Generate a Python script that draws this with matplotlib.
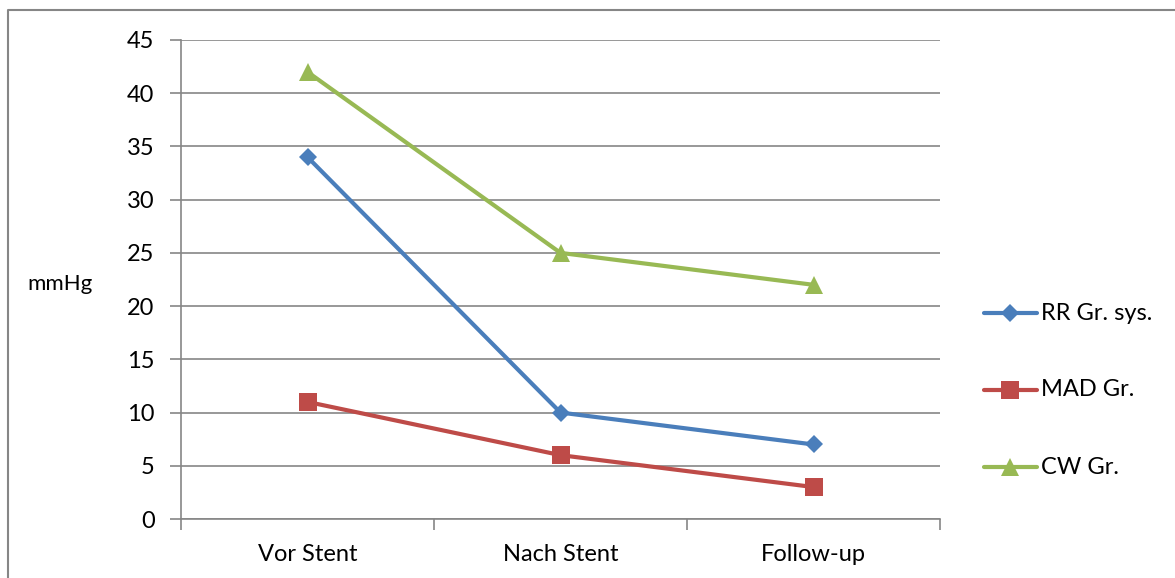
import matplotlib.pyplot as plt
from matplotlib.lines import Line2D

categories = ['Vor Stent', 'Nach Stent', 'Follow-up']
rr_sys = [34, 10, 7]
mad = [11, 6, 3]
cw = [42, 25, 22]
series = ['RR Gr. sys.', 'MAD Gr.', 'CW Gr.']

colors = ['#4A7EBB', '#BE4B48', '#98B954']
markers = ['D', 's', '^']
msizes = [9, 13, 13]

plt.rcParams['font.family'] = ['Lato', 'DejaVu Sans']
fs = 17

W, H = 1175, 578
fig = plt.figure(figsize=(W / 100, H / 100), dpi=100)
ax = fig.add_axes([181 / W, 1 - 519 / H, (940 - 181) / W, (519 - 40) / H])

grid_c = '#868686'
for vals, c, m, ms, lab in zip([rr_sys, mad, cw], colors, markers, msizes, series):
    ax.plot(range(len(categories)), vals, color=c, lw=3, marker=m, ms=ms,
            markeredgewidth=0, label=lab, solid_capstyle='round', zorder=3)

ax.set_xlim(-0.5, 2.5)
ax.set_ylim(0, 45)
ax.set_yticks(range(0, 46, 5))
ax.set_xticks([-0.5, 0.5, 1.5, 2.5])
ax.set_xticklabels([])
ax.set_xticks([0, 1, 2], minor=True)
ax.set_xticklabels(categories, minor=True, fontsize=fs)
ax.tick_params(axis='x', which='minor', length=0, pad=18)
ax.tick_params(axis='x', which='major', length=8, color=grid_c, width=1.2)
ax.tick_params(axis='y', length=8, color=grid_c, width=1.2, labelsize=fs, pad=11)
ax.yaxis.grid(True, color=grid_c, lw=1.2)
ax.set_axisbelow(True)
for s in ['top', 'right']:
    ax.spines[s].set_visible(False)
for s in ['left', 'bottom']:
    ax.spines[s].set_color(grid_c)
    ax.spines[s].set_linewidth(1.2)

fig.text(60 / W, 1 - 284 / H, 'mmHg', fontsize=16, ha='center', va='center')

# legend
ys = [313, 390, 467]
for y, c, m, ms, lab in zip(ys, colors, markers, msizes, series):
    yf = 1 - y / H
    fig.add_artist(Line2D([984 / W, 1037 / W], [yf, yf], color=c, lw=3,
                          solid_capstyle='round'))
    fig.add_artist(Line2D([1010 / W], [yf], color=c, marker=m, ms=ms,
                          markeredgewidth=0))
    fig.text(1041 / W, yf, lab, fontsize=fs, va='center', ha='left')

# chart border: only left and top edges are inside the picture
fig.add_artist(Line2D([8 / W, 8 / W, 1], [0, 1 - 10 / H, 1 - 10 / H],
                      color=grid_c, lw=1.5))

fig.savefig('out.png', dpi=100)
